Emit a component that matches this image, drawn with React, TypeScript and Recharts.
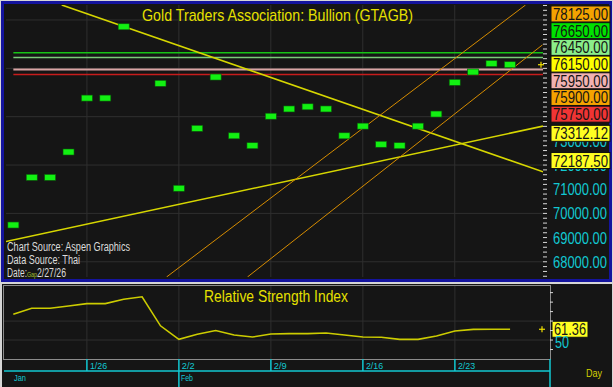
import React from 'react'
import {
  ComposedChart, LineChart, Line, Scatter, XAxis, YAxis, CartesianGrid, ReferenceLine,
} from 'recharts'

// trading days, one slot each (1/29 has no visible bar)
const DATES = ['1/20', '1/21', '1/22', '1/23', '1/26', '1/27', '1/28', '1/29', '1/30', '2/2', '2/3', '2/4', '2/5', '2/6',
  '2/9', '2/10', '2/11', '2/12', '2/13', '2/16', '2/17', '2/18', '2/19', '2/20', '2/23', '2/24', '2/25', '2/26']
const PRICE = [69520, 71490, 71490, 72540, 74770, 74770, 77720, null, 75380, 71040, 73520, 75640, 73210, 72800,
  74020, 74320, 74410, 74320, 73210, 73610, 72860, 72800, 73610, 74110, 75420, 75850, 76200, 76150]
const RSI = [77.2, 83.5, 83.5, 85.9, 88.4, 88.4, 93.0, 95.6, 65.0, 50.8, 56.2, 60.0, 55.3, 53.2,
  56.3, 56.8, 56.8, 57.4, 55.3, 53.2, 52.9, 50.7, 50.7, 54.2, 59.5, 61.2, 61.36, 61.36]

const WEEK_TICKS = [4, 9, 14, 19, 24]
const WEEK_LABELS = ['1/26', '2/2', '2/9', '2/16', '2/23']
const MONTH_TICKS = [9]
const MONTH_LABELS = ['Jan', 'Feb']

const PRICE_LABELS = [68000, 69000, 70000, 71000]
const HIDDEN_LABELS = [73000, 72000] // partly covered by the trend boxes
const PRICE_GRID = [68000, 70000, 72000, 74000, 76000, 78000]
const LEVELS = [78125, 76650, 76450, 76150, 75950, 75900, 75750]
const LEVEL_LINES = [76650, 76450, 75950, 75750]
const TREND_MARKS = [73312.12, 72187.5]
const LAST_PRICE = 76150

// trend lines as [slot, price] pairs
const TREND_START = [[2.63, 78620], [-0.4, 68840], [8.33, 67370], [12.73, 67370]]
const TREND_END = [[28.8, 71720], [28.8, 73610], [27.85, 78620], [28.77, 76970]]

const RSI_LAST = 61.36
const RSI_TICKS = [40, 50, 60, 70, 80, 90, 100]
const RSI_GRID = [50, 70]
const RSI_LABELS = [50]

// axis setup
const X_DOM: [number, number] = [-0.4, 28.8]
const RSI_X_DOM: [number, number] = [-0.505, 29.17]
const Y_DOM: [number, number] = [67370, 78620]
const RSI_Y_DOM: [number, number] = [30, 107]
const MINOR_TICKS = Array.from({ length: 57 }, (_, k) => 67400 + k * 200)

// styles
const FONT = "'Liberation Sans', Arial, sans-serif"
const CYAN = '#12c8d2'
const BG = '#151515'
const GRID = '#2f2f2f'
const LEVEL_BG = ['#f4a300', '#00e200', '#8aee8a', '#ffff00', '#f2b2b2', '#f4a300', '#f03434']
const LINE_STYLE = [
  { c: '#16c416', w: 1.5 }, { c: '#7acc7a', w: 1.5 }, { c: '#d8a4a4', w: 2 }, { c: '#c81c1c', w: 1.5 },
]
const TREND_STYLE = [
  { c: '#d6d600', w: 1.6 }, { c: '#d6d600', w: 1.6 }, { c: '#d68c00', w: 1 }, { c: '#d68c00', w: 1 },
]

const priceRows = DATES.map((d, i) => ({ slot: i, date: d, price: PRICE[i] })).filter(r => r.price != null)
const rsiRows = DATES.map((d, i) => ({ slot: i, date: d, rsi: RSI[i] }))

// squeezed text, the original uses a narrow face
const NText = ({ x, y, w, size, fill, children, anchor }: any) => (
  <text x={x} y={y} fontSize={size} fontFamily={FONT} fill={fill} textLength={w}
    lengthAdjust="spacingAndGlyphs" textAnchor={anchor || 'start'}>{children}</text>
)

const PriceBox = (p: any) => (
  <rect x={p.cx - 5.5} y={p.cy - 3} width={11} height={6} fill="#12f012" stroke="#0a5a0a" strokeWidth={0.6} />
)

const LabelBox = ({ x, cy, text, bg, w }: { x: number; cy: number; text: string; bg: string; w: number }) => (
  <g>
    <rect x={x} y={cy - 8} width={w} height={16} fill={bg} stroke="#111" strokeWidth={1} />
    <NText x={x + 2} y={cy + 6} w={w - 4} size={16} fill="#141414">{text}</NText>
  </g>
)

const Plus = ({ x, y }: { x: number; y: number }) => (
  <g stroke="#f0e000" strokeWidth={1.2}>
    <line x1={x - 3} x2={x + 3} y1={y} y2={y} />
    <line x1={x} x2={x} y1={y - 3} y2={y + 3} />
  </g>
)

const stackLabel = (p: any) => {
  const vb = p.viewBox
  const x0 = vb.x + vb.width + 8
  return (
    <g>
      {LEVELS.map((v, i) => (
        <LabelBox key={v} x={x0} cy={vb.y - 3 + i * 16.7} text={v.toFixed(2)} bg={LEVEL_BG[i]} w={59} />
      ))}
    </g>
  )
}

const markLabel = (v: number) => (p: any) => {
  const vb = p.viewBox
  return <LabelBox x={vb.x + vb.width + 8} cy={vb.y} text={v.toFixed(2)} bg="#ffff22" w={59} />
}

const plainLabel = (v: number) => (p: any) => {
  const vb = p.viewBox
  return <NText x={vb.x + vb.width + 10} y={vb.y + 6} w={54} size={16} fill={CYAN}>{v.toFixed(2)}</NText>
}

const lastMark = (p: any) => <Plus x={p.viewBox.x + p.viewBox.width - 2} y={p.viewBox.y} />

const PriceTick = (p: any) => {
  const v = p.payload.value
  if (!PRICE_LABELS.includes(v)) return <g />
  return <NText x={p.x + 2} y={p.y + 6} w={54} size={16} fill={CYAN}>{v.toFixed(2)}</NText>
}

const RsiTick = (p: any) => {
  const v = p.payload.value
  if (!RSI_LABELS.includes(v)) return <g />
  return <NText x={p.x + 1} y={p.y + 8} w={14} size={16} fill={CYAN}>{String(v)}</NText>
}

const WeekTick = (p: any) => {
  const i = WEEK_TICKS.indexOf(p.payload.value)
  return (
    <g>
      <line x1={p.x} x2={p.x} y1={p.y} y2={p.y + 12} stroke={CYAN} strokeWidth={1.5} />
      {i >= 0 && (
        <NText x={p.x + 3} y={p.y + 10} w={WEEK_LABELS[i].length * 4.3} size={9} fill={CYAN}>{WEEK_LABELS[i]}</NText>
      )}
    </g>
  )
}

const MonthTick = (p: any) => {
  const v = p.payload.value
  if (v === RSI_X_DOM[0]) {
    return <NText x={p.x + 10} y={p.y + 10} w={12} size={9} fill={CYAN}>{MONTH_LABELS[0]}</NText>
  }
  const i = MONTH_TICKS.indexOf(v)
  return (
    <g>
      <line x1={p.x} x2={p.x} y1={p.y} y2={p.y + 16} stroke={CYAN} strokeWidth={1.5} />
      {i >= 0 && (
        <NText x={p.x + 2} y={p.y + 10} w={12} size={9} fill={CYAN}>{MONTH_LABELS[i + 1]}</NText>
      )}
    </g>
  )
}

export default function App() {
  return (
    <div style={{ position: 'fixed', left: 0, top: 0, width: 613, height: 387, background: '#d6d6d6', overflow: 'hidden' }}>
      {/* main panel frame */}
      <div style={{ position: 'absolute', left: 1, top: 1, width: 611, height: 281, boxSizing: 'border-box', border: '3px solid #14149e', background: BG }} />
      {/* lower panel */}
      <div style={{ position: 'absolute', left: 2, top: 284, width: 610, height: 103, background: BG }} />
      <div style={{ position: 'absolute', left: 3, top: 285, width: 548, height: 75, boxSizing: 'border-box', border: '1px solid #8c8c8c' }} />

      <div style={{ position: 'absolute', left: 0, top: 0 }}>
        <ComposedChart width={613} height={282} data={priceRows} margin={{ top: 5, right: 0, bottom: 5, left: 6 }}>
          <CartesianGrid xAxisId="x" yAxisId="p" horizontalValues={PRICE_GRID} verticalValues={WEEK_TICKS} stroke={GRID} />
          <XAxis xAxisId="x" dataKey="slot" type="number" domain={X_DOM} allowDataOverflow hide />
          <YAxis yAxisId="l" orientation="left" mirror width={0} type="number" domain={Y_DOM} allowDataOverflow
            ticks={MINOR_TICKS} interval={0} tickSize={3} axisLine={false} tickLine={{ stroke: '#d8d8d8' }}
            tickFormatter={() => ''} />
          <YAxis yAxisId="p" orientation="right" width={70} type="number" domain={Y_DOM} allowDataOverflow
            ticks={MINOR_TICKS} interval={0} tickSize={4} tickMargin={4} axisLine={false}
            tickLine={{ stroke: '#d8d8d8' }} tick={PriceTick} />
          <Scatter xAxisId="x" yAxisId="p" data={priceRows} dataKey="price" shape={PriceBox} isAnimationActive={false} />
          {LEVEL_LINES.map((v, i) => (
            <ReferenceLine key={v} xAxisId="x" yAxisId="p" segment={[{ x: 0, y: v }, { x: X_DOM[1], y: v }]}
              stroke={LINE_STYLE[i].c} strokeWidth={LINE_STYLE[i].w} ifOverflow="hidden" />
          ))}
          {TREND_START.map((s, i) => (
            <ReferenceLine key={'t' + i} xAxisId="x" yAxisId="p"
              segment={[{ x: s[0], y: s[1] }, { x: TREND_END[i][0], y: TREND_END[i][1] }]}
              stroke={TREND_STYLE[i].c} strokeWidth={TREND_STYLE[i].w} ifOverflow="hidden" />
          ))}
          {HIDDEN_LABELS.map(v => (
            <ReferenceLine key={v} xAxisId="x" yAxisId="p" y={v} stroke="none" label={plainLabel(v)} />
          ))}
          <ReferenceLine xAxisId="x" yAxisId="p" y={LEVELS[0]} stroke="none" label={stackLabel} />
          {TREND_MARKS.map(v => (
            <ReferenceLine key={v} xAxisId="x" yAxisId="p" y={v} stroke="none" label={markLabel(v)} />
          ))}
          <ReferenceLine xAxisId="x" yAxisId="p" y={LAST_PRICE} stroke="none" label={lastMark} />
        </ComposedChart>
      </div>

      <div style={{ position: 'absolute', left: 0, top: 283 }}>
        <LineChart width={613} height={104} data={rsiRows} margin={{ top: 3, right: 0, bottom: 0, left: 4 }}>
          <CartesianGrid xAxisId="a" yAxisId="r" horizontalValues={RSI_GRID} verticalValues={WEEK_TICKS} stroke={GRID} />
          <XAxis xAxisId="a" dataKey="slot" type="number" domain={RSI_X_DOM} allowDataOverflow
            ticks={[...WEEK_TICKS, RSI_X_DOM[1]]} interval={0} height={12} axisLine={false} tickLine={false}
            tickSize={0} tickMargin={0} tick={WeekTick} />
          <XAxis xAxisId="b" dataKey="slot" type="number" domain={RSI_X_DOM} allowDataOverflow
            ticks={[RSI_X_DOM[0], ...MONTH_TICKS, RSI_X_DOM[1]]} interval={0} height={16}
            axisLine={{ stroke: CYAN, strokeWidth: 1.5 }} tickLine={false} tickSize={0} tickMargin={0} tick={MonthTick} />
          <YAxis yAxisId="l" orientation="left" mirror width={0} type="number" domain={RSI_Y_DOM} allowDataOverflow
            ticks={RSI_TICKS} interval={0} tickSize={3} axisLine={false} tickLine={{ stroke: '#d8d8d8' }}
            tickFormatter={() => ''} />
          <YAxis yAxisId="r" orientation="right" width={63} type="number" domain={RSI_Y_DOM} allowDataOverflow
            ticks={RSI_TICKS} interval={0} tickSize={3} tickMargin={1} axisLine={false}
            tickLine={{ stroke: '#d8d8d8' }} tick={RsiTick} />
          <Line xAxisId="a" yAxisId="r" dataKey="rsi" stroke="#cccc00" strokeWidth={1.6} dot={false}
            type="linear" isAnimationActive={false} />
          <ReferenceLine xAxisId="a" yAxisId="r" y={RSI_LAST} stroke="none"
            label={(p: any) => (
              <g>
                <Plus x={p.viewBox.x + p.viewBox.width - 8} y={p.viewBox.y} />
                <LabelBox x={p.viewBox.x + p.viewBox.width + 2} cy={p.viewBox.y} text={RSI_LAST.toFixed(2)} bg="#ffff22" w={36} />
              </g>
            )} />
        </LineChart>
      </div>

      <svg width={613} height={387} style={{ position: 'absolute', left: 0, top: 0, pointerEvents: 'none' }}>
        <NText x={142} y={21} w={271} size={17} fill="#e6e000">Gold Traders Association: Bullion (GTAGB)</NText>
        <NText x={7} y={251} w={123} size={12} fill="#dcdcdc">Chart Source: Aspen Graphics</NText>
        <NText x={7} y={264} w={73} size={12} fill="#dcdcdc">Data Source: Thai</NText>
        <NText x={7} y={277} w={20} size={12} fill="#dcdcdc">Date:</NText>
        <NText x={37} y={277} w={29} size={12} fill="#dcdcdc">2/27/26</NText>
        <NText x={27} y={277} w={10} size={7} fill="#a8c030">Gap</NText>
        <NText x={204} y={302} w={144} size={16} fill="#e6e000">Relative Strength Index</NText>
        <NText x={586} y={377} w={16} size={11} fill="#d4d000">Day</NText>
      </svg>
    </div>
  )
}
